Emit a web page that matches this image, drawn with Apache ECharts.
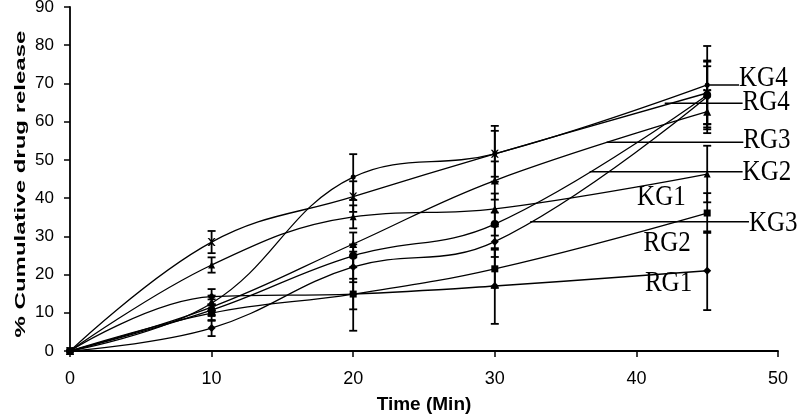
<!DOCTYPE html>
<html>
<head>
<meta charset="utf-8">
<script src="https://cdn.jsdelivr.net/npm/echarts@6/dist/echarts.min.js"></script>
<style>
html,body{margin:0;padding:0;background:#fff;}
#chart{width:799px;height:415px;}
</style>
</head>
<body>
<div id="chart"></div>
<script>
// time points (min)
var times = [0, 10, 20, 30, 45];

// % cumulative drug release
var KG4 = [0, 12.5, 45.5, 51.6, 69.6];
var RG4 = [0, 28.5, 40.4, 51.6, 67.5];
var RG3 = [0, 11.5, 28.0, 44.6, 62.6];
var KG2 = [0, 22.5, 35.1, 37.2, 46.3];
var KG1 = [0, 10.7, 24.9, 33.2, 67.0];
var RG2 = [0, 6.0, 22.0, 28.6, 66.5];
var KG3 = [0, 9.9, 14.9, 21.5, 36.1];
var RG1 = [0, 14.2, 14.9, 17.0, 21.0];

// error bar half-lengths (SD)
var KG4_sd = [0, 2.0, 6.0, 7.3, 10.2];
var RG4_sd = [0, 2.9, 4.0, 6.0, 8.2];
var RG3_sd = [0, 2.0, 3.0, 5.0, 5.6];
var KG2_sd = [0, 2.0, 3.0, 4.0, 7.4];
var KG1_sd = [0, 1.5, 3.0, 3.0, 9.0];
var RG2_sd = [0, 2.1, 4.0, 4.0, 8.0];
var KG3_sd = [0, 2.0, 4.0, 5.0, 5.2];
var RG1_sd = [0, 2.0, 9.6, 9.9, 10.3];

var xTicks = [0, 10, 20, 30, 40, 50];
var yTicks = [0, 10, 20, 30, 40, 50, 60, 70, 80, 90];

// series labels drawn on the plot (text anchor in data units + leader line)
var labelNames = ['KG4', 'RG4', 'RG3', 'KG2', 'KG3', 'KG1', 'RG2', 'RG1'];
var labelX = [47.25, 47.5, 47.55, 47.5, 47.95, 40.05, 40.5, 40.6];
var labelY = [71.3, 65.0, 55.2, 46.7, 33.5, 40.2, 28.3, 17.8];
var leaderFrom = [45, 42.0, 37.9, 36.7, 32.5, null, null, null];
var leaderY = [69.6, 64.8, 54.6, 46.9, 33.8, null, null, null];

var names = ['KG4', 'RG4', 'RG3', 'KG2', 'KG1', 'RG2', 'KG3', 'RG1'];
var values = [KG4, RG4, RG3, KG2, KG1, RG2, KG3, RG1];
var sds = [KG4_sd, RG4_sd, RG3_sd, KG2_sd, KG1_sd, RG2_sd, KG3_sd, RG1_sd];
var symbols = ['circle', 'path://M0,0L2,0L5,3L8,0L10,0L6,5L10,10L8,10L5,7L2,10L0,10L4,5Z', 'triangle', 'triangle', 'circle', 'diamond', 'rect', 'diamond'];
var symSizes = [5, 8, 8, 7, 8, 8, 7, 8];

var myChart = echarts.init(document.getElementById('chart'));

var series = [];
var errData = [];
for (var s = 0; s < names.length; s++) {
	var pts = [];
	for (var i = 0; i < times.length; i++) {
		pts.push([times[i], values[s][i]]);
		if (sds[s][i] > 0) errData.push([times[i], values[s][i], sds[s][i]]);
	}
	series.push({
		name: names[s],
		type: 'line',
		data: pts,
		smooth: 0.4,
		symbol: symbols[s],
		symbolSize: symSizes[s],
		showSymbol: true,
		itemStyle: { color: '#000' },
		lineStyle: { color: '#000', width: 1.3 },
		z: 3
	});
}

// error bars
series.push({
	type: 'custom',
	data: errData,
	z: 2,
	renderItem: function (params, api) {
		var x = api.value(0), y = api.value(1), e = api.value(2);
		var top = api.coord([x, y + e]);
		var bot = api.coord([x, y - e]);
		var w = 4;
		var st = { stroke: '#000', lineWidth: 1.8 };
		return {
			type: 'group',
			children: [
				{ type: 'line', shape: { x1: top[0], y1: top[1], x2: bot[0], y2: bot[1] }, style: st },
				{ type: 'line', shape: { x1: top[0] - w, y1: top[1], x2: top[0] + w, y2: top[1] }, style: st },
				{ type: 'line', shape: { x1: bot[0] - w, y1: bot[1], x2: bot[0] + w, y2: bot[1] }, style: st }
			]
		};
	}
});

// on-plot labels with leader lines
var annData = [];
for (var k = 0; k < labelNames.length; k++) annData.push([labelX[k], labelY[k]]);
series.push({
	type: 'custom',
	data: annData,
	z: 4,
	clip: false,
	renderItem: function (params, api) {
		var i = params.dataIndex;
		var p = api.coord([labelX[i], labelY[i]]);
		var children = [{
			type: 'text',
			x: p[0], y: p[1],
			scaleY: 1.2,
			style: { text: labelNames[i], font: '25px "Liberation Serif"', fill: '#000', align: 'left', verticalAlign: 'middle' }
		}];
		if (leaderFrom[i] != null) {
			var a = api.coord([leaderFrom[i], leaderY[i]]);
			var b = api.coord([labelX[i], leaderY[i]]);
			children.push({ type: 'line', shape: { x1: a[0], y1: a[1], x2: b[0], y2: b[1] }, style: { stroke: '#000', lineWidth: 1.4 } });
		}
		return { type: 'group', children: children };
	}
});

myChart.setOption({
	animation: false,
	backgroundColor: '#fff',
	grid: { left: 70, right: 21, top: 7, bottom: 64, containLabel: false, outerBoundsMode: 'none' },
	xAxis: {
		type: 'value',
		min: xTicks[0], max: xTicks[xTicks.length - 1], interval: 10,
		name: 'Time (Min)',
		nameLocation: 'middle',
		nameGap: 44,
		nameTextStyle: { fontFamily: 'Liberation Sans', fontWeight: 'bold', fontSize: 19, color: '#000' },
		axisLine: { lineStyle: { color: '#000', width: 1.8 } },
		axisTick: { length: 6, lineStyle: { color: '#000', width: 1.5 } },
		axisLabel: { margin: 19, fontFamily: 'Liberation Sans', fontSize: 18, color: '#000' },
		splitLine: { show: false }
	},
	yAxis: {
		type: 'value',
		min: yTicks[0], max: yTicks[yTicks.length - 1], interval: 10,
		axisLine: { show: true, lineStyle: { color: '#000', width: 1.8 } },
		axisTick: { show: true, length: 6, lineStyle: { color: '#000', width: 1.5 } },
		axisLabel: { margin: 16, fontFamily: 'Liberation Sans', fontSize: 17, color: '#000' },
		splitLine: { show: false }
	},
	graphic: [{
		type: 'text',
		x: 21, y: 184,
		rotation: Math.PI / 2,
		scaleX: 1.6,
		style: { text: '% Cumulative drug release', font: 'bold 15px "Liberation Sans"', fill: '#000', align: 'center', verticalAlign: 'middle' }
	}],
	series: series
});
</script>
</body>
</html>
